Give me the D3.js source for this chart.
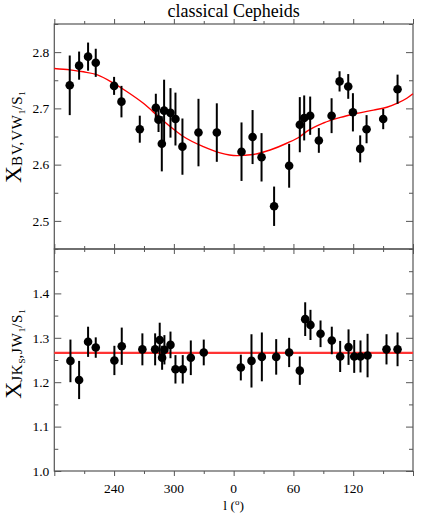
<!DOCTYPE html>
<html>
<head>
<meta charset="utf-8">
<script src="https://cdn.jsdelivr.net/npm/d3@7"></script>
<style>
  body { margin: 0; background: #fff; }
  svg { font-family: "Liberation Serif", "Times New Roman", serif; }
</style>
</head>
<body>
<div id="chart"></div>
<script>
// galactic longitude (deg), values and errors
var lonBV = [195.5, 204.9, 213.9, 221.6, 240.0, 247.4, 265.8, 281.9, 284.6, 287.9, 290.2, 296.6, 301.6, 308.6, 324.7, 343.1,
  7.9, 19.0, 28.0, 40.6, 55.7, 66.4, 70.8, 76.8, 85.5, 98.3, 106.3, 115.0, 119.7, 127.0, 133.4, 150.1, 164.5];
var valBV = [2.741, 2.776, 2.792, 2.781, 2.740, 2.712, 2.663, 2.701, 2.680, 2.637, 2.696, 2.692, 2.681, 2.632, 2.657, 2.657,
  2.623, 2.649, 2.613, 2.526, 2.598, 2.671, 2.683, 2.687, 2.643, 2.687, 2.748, 2.739, 2.693, 2.628, 2.663, 2.681, 2.734];
var errBV = [0.053, 0.025, 0.025, 0.025, 0.016, 0.028, 0.024, 0.025, 0.022, 0.049, 0.055, 0.044, 0.047, 0.050, 0.060, 0.052,
  0.052, 0.048, 0.043, 0.035, 0.039, 0.049, 0.040, 0.034, 0.022, 0.031, 0.018, 0.022, 0.034, 0.024, 0.025, 0.018, 0.026];

// red fit curve, sampled from the figure
var fitLonBV = [180, 195.8, 209.1, 222.6, 240.2, 252.7, 269.4, 286.1, 296.2, 309.5, 329.6, 346.4,
  3.1, 19.8, 36.6, 53.3, 66.7, 73.4, 90.1, 107.2, 123.6, 140.3, 153.7, 163.8, 173.8, 179.9];
var fitValBV = [2.771, 2.7685, 2.765, 2.760, 2.744, 2.730, 2.709, 2.683, 2.668, 2.650, 2.632, 2.621,
  2.616, 2.618, 2.626, 2.638, 2.650, 2.659, 2.674, 2.684, 2.691, 2.697, 2.702, 2.709, 2.718, 2.726];

var lonJK = [196.2, 204.9, 213.9, 221.6, 240.3, 247.7, 268.4, 281.2, 285.8, 288.2, 290.5, 296.6, 301.6, 308.9, 317.0, 330.0,
  7.2, 17.9, 28.3, 42.7, 55.7, 66.4, 71.8, 77.1, 87.2, 98.5, 106.9, 115.3, 121.0, 127.3, 134.4, 153.4, 164.5];
var valJK = [1.248, 1.205, 1.291, 1.278, 1.249, 1.281, 1.274, 1.274, 1.295, 1.255, 1.273, 1.284, 1.229, 1.229, 1.255, 1.267,
  1.233, 1.248, 1.257, 1.257, 1.267, 1.226, 1.342, 1.329, 1.309, 1.294, 1.258, 1.279, 1.258, 1.258, 1.260, 1.274, 1.274];
var errJK = [0.048, 0.043, 0.034, 0.023, 0.033, 0.042, 0.036, 0.036, 0.039, 0.027, 0.033, 0.030, 0.032, 0.032, 0.039, 0.029,
  0.029, 0.060, 0.055, 0.040, 0.033, 0.032, 0.038, 0.034, 0.030, 0.031, 0.035, 0.040, 0.037, 0.036, 0.049, 0.034, 0.038];
var fitJK = 1.266;

// axis ticks
var xMajor = [180, 240, 300, 360, 420, 480, 540];
var xMinor = [210, 270, 330, 390, 450, 510];
var xLabels = [240, 300, 0, 60, 120];
var yTicksBV = [2.5, 2.6, 2.7, 2.8];
var yMinorBV = [2.45, 2.55, 2.65, 2.75, 2.85];
var yTicksJK = [1.0, 1.1, 1.2, 1.3, 1.4];
var yMinorJK = [1.05, 1.15, 1.25, 1.35, 1.45];

var width = 436, height = 523;
var left = 54.3, right = 413;
var frameColor = "#555";

// longitudes run 180 -> 360/0 -> 180, so unwrap to a continuous axis
function unwrap(l) { return l < 180 ? l + 360 : l; }

var svg = d3.select("#chart").append("svg")
  .attr("width", width)
  .attr("height", height);

var x = d3.scaleLinear().domain([180, 540]).range([left, right]);

svg.append("text")
  .attr("x", (left + right) / 2)
  .attr("y", 17)
  .attr("text-anchor", "middle")
  .attr("font-size", 18)
  .text("classical Cepheids");

function drawPanel(opts) {
  var y = d3.scaleLinear().domain(opts.domain).range([opts.bottom, opts.top]);
  var g = svg.append("g");

  // inward ticks on all four sides
  var axes = [
    [d3.axisLeft(y).tickValues(opts.ticks).tickSize(-7).tickPadding(5).tickFormat(d3.format(".1f")), left, 0],
    [d3.axisLeft(y).tickValues(opts.minor).tickSize(-4).tickFormat(""), left, 0],
    [d3.axisRight(y).tickValues(opts.ticks).tickSize(-7).tickFormat(""), right, 0],
    [d3.axisRight(y).tickValues(opts.minor).tickSize(-4).tickFormat(""), right, 0],
    [d3.axisTop(x).tickValues(xMajor).tickSize(-5).tickFormat(""), 0, opts.bottom],
    [d3.axisTop(x).tickValues(xMinor).tickSize(-3).tickFormat(""), 0, opts.bottom],
    [d3.axisBottom(x).tickValues(xMajor).tickSize(-5).tickFormat(""), 0, opts.top],
    [d3.axisBottom(x).tickValues(xMinor).tickSize(-3).tickFormat(""), 0, opts.top]
  ];
  axes.forEach(function(a) {
    var ax = g.append("g").attr("transform", "translate(" + a[1] + "," + a[2] + ")").call(a[0]);
    ax.select(".domain").remove();
    ax.attr("font-size", 13.5).attr("font-family", null);
    ax.selectAll("line").attr("stroke", frameColor);
    ax.selectAll("text").attr("fill", "#000");
  });

  g.append("rect")
    .attr("x", left).attr("y", opts.top)
    .attr("width", right - left).attr("height", opts.bottom - opts.top)
    .attr("fill", "none")
    .attr("stroke", frameColor)
    .attr("stroke-width", 1.2);

  return { g: g, y: y };
}

function drawPoints(p, lon, val, err) {
  var pts = lon.map(function(l, i) { return { l: unwrap(l), v: val[i], e: err[i] }; });
  p.g.append("g").selectAll("line")
    .data(pts)
    .enter()
    .append("line")
    .attr("x1", d => x(d.l)).attr("x2", d => x(d.l))
    .attr("y1", d => p.y(d.v - d.e)).attr("y2", d => p.y(d.v + d.e))
    .attr("stroke", "#000")
    .attr("stroke-width", 2);
  p.g.append("g").selectAll("circle")
    .data(pts)
    .enter()
    .append("circle")
    .attr("cx", d => x(d.l)).attr("cy", d => p.y(d.v))
    .attr("r", 4.3)
    .attr("fill", "#000");
}

// top panel: BV,VW1/S1
var panelBV = drawPanel({ domain: [2.45, 2.85], top: 24, bottom: 249, ticks: yTicksBV, minor: yMinorBV });

var fitPts = fitLonBV.map(function(l, i) { return [unwrap(l), fitValBV[i]]; });
panelBV.g.append("path")
  .datum(fitPts)
  .attr("d", d3.line().x(d => x(d[0])).y(d => panelBV.y(d[1])).curve(d3.curveMonotoneX))
  .attr("fill", "none")
  .attr("stroke", "#f00")
  .attr("stroke-width", 1.4);
drawPoints(panelBV, lonBV, valBV, errBV);

// bottom panel: JKs,JW1/S1
var panelJK = drawPanel({ domain: [1.0, 1.5], top: 249, bottom: 471, ticks: yTicksJK, minor: yMinorJK });

panelJK.g.append("line")
  .attr("x1", x(180)).attr("x2", x(540))
  .attr("y1", panelJK.y(fitJK)).attr("y2", panelJK.y(fitJK))
  .attr("stroke", "#f33")
  .attr("stroke-width", 2.2);
drawPoints(panelJK, lonJK, valJK, errJK);

// x tick labels under the bottom panel
svg.append("g").selectAll("text")
  .data(xLabels)
  .enter()
  .append("text")
  .attr("x", d => x(unwrap(d)))
  .attr("y", 493)
  .attr("text-anchor", "middle")
  .attr("font-size", 13.5)
  .text(d => d);

var xl = svg.append("text")
  .attr("x", (left + right) / 2)
  .attr("y", 510)
  .attr("text-anchor", "middle")
  .attr("font-size", 13.5);
xl.append("tspan").text("l (");
xl.append("tspan").attr("font-size", 9).attr("dy", -5).text("o");
xl.append("tspan").attr("dy", 5).text(")");

// y titles: X with nested subscripts
function yTitle(cy, parts) {
  var t = svg.append("text")
    .attr("transform", "translate(21," + cy + ") rotate(-90)")
    .attr("text-anchor", "middle");
  var base = 0;
  parts.forEach(function(p) {
    t.append("tspan")
      .attr("font-size", p[1])
      .attr("dy", p[2] - base)
      .attr("letter-spacing", p[1] > 12 && p[1] < 20 ? 0.8 : 0)
      .text(p[0]);
    base = p[2];
  });
}

yTitle(137, [["X", 23.5, 0], ["BV,VW", 15, 1], ["1", 9, 4], ["/S", 15, 1], ["1", 9, 4]]);
yTitle(354, [["X", 23.5, 0], ["JK", 15, 1], ["S", 9, 4], [",JW", 15, 1], ["1", 9, 4], ["/S", 15, 1], ["1", 9, 4]]);
</script>
</body>
</html>
